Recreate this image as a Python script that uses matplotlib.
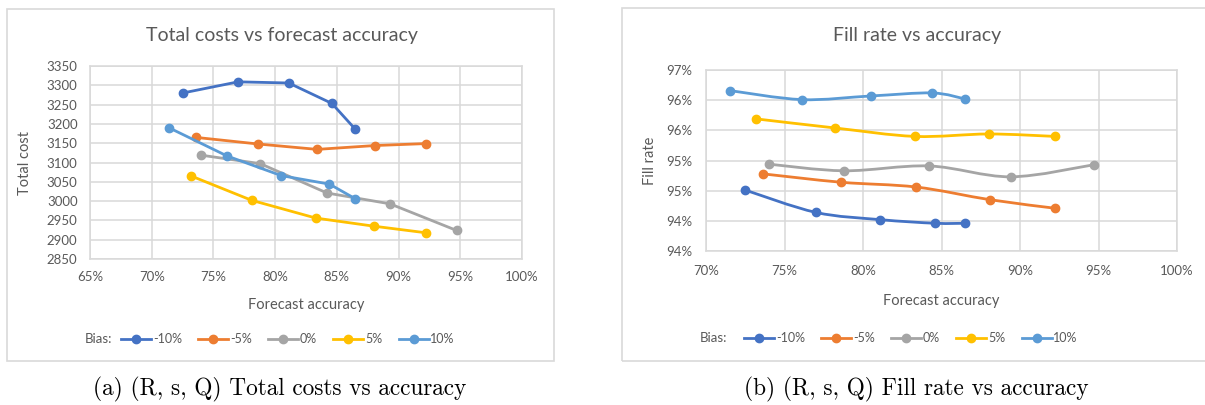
import numpy as np
import matplotlib
matplotlib.use("Agg")
import matplotlib.pyplot as plt
from matplotlib.path import Path
from matplotlib.patches import PathPatch, Rectangle
from matplotlib.lines import Line2D

# data
bias_labels = ["-10%", "-5%", "0%", "5%", "10%"]
colors = ["#4472C4", "#ED7D31", "#A5A5A5", "#FFC000", "#5B9BD5"]

# forecast accuracy (%) per bias series
acc = [
    [72.5, 77.0, 81.1, 84.6, 86.5],
    [73.6, 78.6, 83.4, 88.1, 92.2],
    [74.0, 78.8, 84.2, 89.3, 94.7],
    [73.2, 78.1, 83.3, 88.0, 92.2],
    [71.4, 76.1, 80.5, 84.4, 86.5],
]
total_cost = [
    [3280, 3309, 3306, 3253, 3186],
    [3165, 3148, 3134, 3144, 3149],
    [3119, 3097, 3021, 2993, 2924],
    [3065, 3002, 2956, 2935, 2918],
    [3190, 3117, 3066, 3044, 3006],
]

acc_fill = [
    [72.5, 77.0, 81.1, 84.6, 86.5],
    [73.6, 78.6, 83.4, 88.1, 92.2],
    [74.0, 78.8, 84.2, 89.4, 94.7],
    [73.2, 78.2, 83.3, 88.0, 92.2],
    [71.5, 76.1, 80.5, 84.4, 86.5],
]
fill_rate = [
    [94.76, 94.39, 94.27, 94.21, 94.21],
    [95.03, 94.89, 94.81, 94.60, 94.46],
    [95.19, 95.08, 95.16, 94.98, 95.18],
    [95.94, 95.79, 95.65, 95.69, 95.65],
    [96.41, 96.26, 96.32, 96.37, 96.27],
]

cost_ticks = [2850, 2900, 2950, 3000, 3050, 3100, 3150, 3200, 3250, 3300, 3350]
acc_ticks_a = [65, 70, 75, 80, 85, 90, 95, 100]
acc_ticks_b = [70, 75, 80, 85, 90, 95, 100]
fill_ticks = [93.75, 94.25, 94.75, 95.25, 95.75, 96.25, 96.75]
fill_tick_labels = ["94%", "94%", "95%", "95%", "96%", "96%", "97%"]

txt = "#595959"
grid = "#D9D9D9"
plt.rcParams['font.family'] = ['Lato', 'DejaVu Sans']


def smooth_path(x, y):
    # Excel-like smoothed line: Catmull-Rom segments as cubic Beziers
    p = np.column_stack([x, y]).astype(float)
    n = len(p)
    verts = [p[0]]
    codes = [Path.MOVETO]
    for i in range(n - 1):
        p0 = p[i - 1] if i > 0 else p[i]
        p3 = p[i + 2] if i + 2 < n else p[i + 1]
        c1 = p[i] + (p[i + 1] - p0) / 6
        c2 = p[i + 1] - (p3 - p[i]) / 6
        verts += [c1, c2, p[i + 1]]
        codes += [Path.CURVE4] * 3
    return Path(verts, codes)


fig = plt.figure(figsize=(12.05, 4.05), dpi=100)

# chart frames
fig.patches.append(Rectangle((0.0058, 0.1086), 0.454, 0.869, transform=fig.transFigure,
                             fill=False, edgecolor=grid, lw=1.2))
fig.patches.append(Rectangle((0.516, 0.1086), 0.49, 0.8716, transform=fig.transFigure,
                             fill=False, edgecolor=grid, lw=1.2))

ax1 = fig.add_axes([0.0747, 0.3605, 0.3585, 0.4765])
ax2 = fig.add_axes([0.5859, 0.3802, 0.3909, 0.4469])

for ax in (ax1, ax2):
    ax.grid(True, color=grid, lw=1.1)
    ax.set_axisbelow(True)
    for s in ax.spines.values():
        s.set_color(grid)
        s.set_linewidth(1.1)
    ax.tick_params(length=0, labelsize=9.5, colors=txt)

# (a) total cost
for i in range(5):
    ax1.plot(acc[i], total_cost[i], color=colors[i], lw=2, marker='o', ms=6, zorder=3)
ax1.set_xlim(65, 100)
ax1.set_ylim(2850, 3350)
ax1.set_xticks(acc_ticks_a)
ax1.set_xticklabels([f"{t}%" for t in acc_ticks_a])
ax1.set_yticks(cost_ticks)
ax1.tick_params(axis='y', pad=9)
ax1.tick_params(axis='x', pad=9)
ax1.set_xlabel("Forecast accuracy", fontsize=10.5, color=txt)
ax1.set_ylabel("Total cost", fontsize=10.5, color=txt)
ax1.xaxis.set_label_coords(0.5, -0.20)
ax1.yaxis.set_label_coords(-0.134, 0.5)

# (b) fill rate, smoothed lines
for i in range(5):
    ax2.add_patch(PathPatch(smooth_path(acc_fill[i], fill_rate[i]), fill=False,
                            edgecolor=colors[i], lw=2, zorder=3))
    ax2.plot(acc_fill[i], fill_rate[i], ls='none', color=colors[i], marker='o', ms=6, zorder=4)
ax2.set_xlim(70, 100)
ax2.set_ylim(93.75, 96.75)
ax2.set_xticks(acc_ticks_b)
ax2.set_xticklabels([f"{t}%" for t in acc_ticks_b])
ax2.set_yticks(fill_ticks)
ax2.set_yticklabels(fill_tick_labels)
ax2.tick_params(axis='y', pad=10)
ax2.tick_params(axis='x', pad=10)
ax2.set_xlabel("Forecast accuracy", fontsize=10.5, color=txt)
ax2.set_ylabel("Fill rate", fontsize=10.5, color=txt)
ax2.xaxis.set_label_coords(0.5, -0.238)
ax2.yaxis.set_label_coords(-0.105, 0.5)

# titles
fig.text(282 / 1205, 1 - 35 / 405, "Total costs vs forecast accuracy", ha='center', va='center',
         fontsize=14, color=txt)
fig.text(917 / 1205, 1 - 36 / 405, "Fill rate vs accuracy", ha='center', va='center',
         fontsize=14, color=txt)

# legends
handles = [Line2D([], [], color=c, lw=2, marker='o', ms=6) for c in colors]
for bias_x, leg_x, y in [(85, 121, 339), (700, 744, 338)]:
    fig.text(bias_x / 1205, 1 - y / 405, "Bias:", ha='left', va='center', fontsize=9.5, color=txt)
    leg = fig.legend(handles, bias_labels, loc='center left', ncol=5,
                     bbox_to_anchor=(leg_x / 1205, 1 - y / 405), frameon=False, fontsize=9,
                     handlelength=2.4, handletextpad=0.15, columnspacing=1.3,
                     borderpad=0, borderaxespad=0)
    for t in leg.get_texts():
        t.set_color(txt)

# captions
fig.text(280 / 1205, 1 - 389 / 405, "(a) (R, s, Q) Total costs vs accuracy", ha='center',
         va='center', fontsize=16.8, family='cmr10', color='black')
fig.text(916 / 1205, 1 - 389 / 405, "(b) (R, s, Q) Fill rate vs accuracy", ha='center',
         va='center', fontsize=16.8, family='cmr10', color='black')

fig.savefig("out.png", dpi=100)
